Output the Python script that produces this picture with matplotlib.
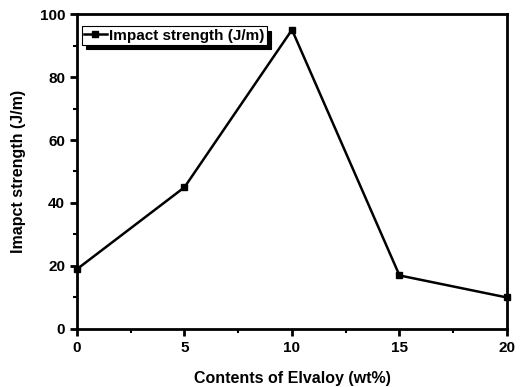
import matplotlib
matplotlib.use("Agg")
import matplotlib.pyplot as plt
from matplotlib.ticker import MultipleLocator

plt.rcParams['font.family'] = ['Liberation Sans', 'DejaVu Sans']
plt.rcParams['font.weight'] = 'bold'

contents = [0, 5, 10, 15, 20]
impact = [19, 45, 95, 17, 10]
series_label = "Impact strength (J/m)"

fig = plt.figure(figsize=(5.23, 3.87), dpi=100)
ax = fig.add_axes([0.1472, 0.1499, 0.8222, 0.8139])
ax.plot(contents, impact, color='black', lw=1.8, marker='s', markersize=4.5,
        label=series_label, clip_on=False, zorder=5)
ax.set_xlim(0, 20)
ax.set_ylim(0, 100)
ax.xaxis.set_major_locator(MultipleLocator(5))
ax.xaxis.set_minor_locator(MultipleLocator(2.5))
ax.yaxis.set_major_locator(MultipleLocator(20))
ax.yaxis.set_minor_locator(MultipleLocator(10))
for s in ax.spines.values():
    s.set_linewidth(2)
ax.tick_params(which='major', direction='out', length=5, width=2, labelsize=11)
ax.tick_params(which='minor', direction='out', length=3, width=1.5)
for lab in ax.get_xticklabels() + ax.get_yticklabels():
    lab.set_fontweight('bold')
ax.set_xlabel("Contents of Elvaloy (wt%)", fontsize=11.5, fontweight='bold', labelpad=12)
ax.set_ylabel("Imapct strength (J/m)", fontsize=11.5, fontweight='bold', labelpad=10)
leg = ax.legend(loc='upper left', bbox_to_anchor=(0.0, 0.975), fontsize=11,
                frameon=True, fancybox=False,
                shadow={'ox': 3, 'oy': -3, 'facecolor': 'black', 'edgecolor': 'black', 'alpha': 1},
                handlelength=1.5, handletextpad=0.15, borderpad=0.15, borderaxespad=0.3)
leg.get_frame().set_edgecolor('black')
leg.get_frame().set_linewidth(0.8)
for t in leg.get_texts():
    t.set_fontweight('bold')
fig.savefig("out.png", dpi=100)
